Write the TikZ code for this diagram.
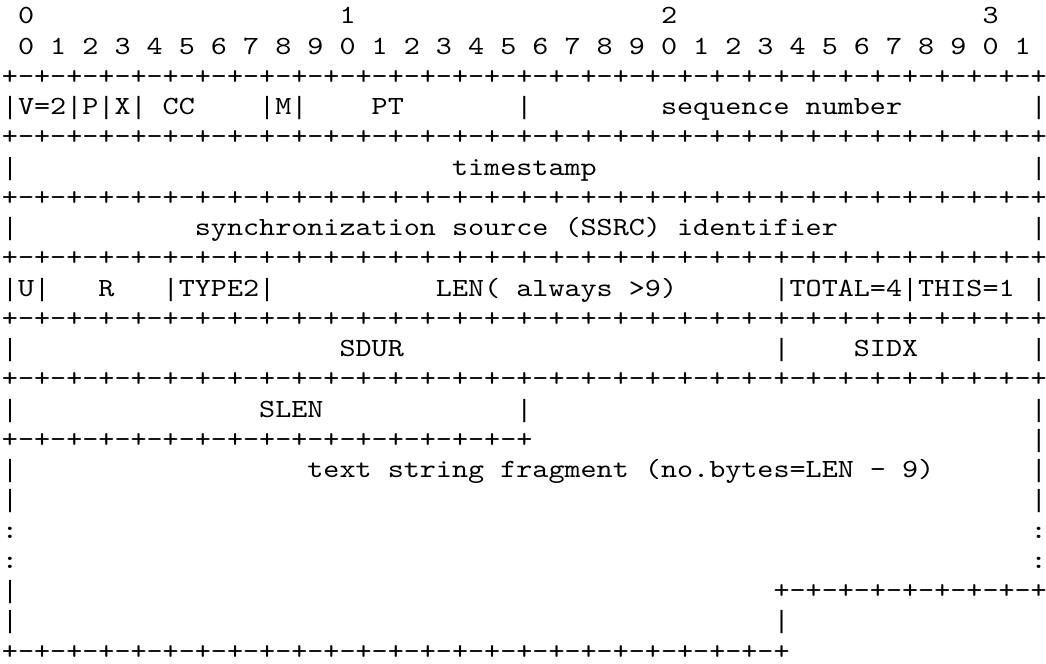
\documentclass[tikz,border=0pt]{standalone}
\usepackage{fontspec}
\usepackage{tikz}

\newfontfamily\asciiface[FakeStretch=1.1686]{lmmono10-regular.otf}
\newfontfamily\barface{Liberation Mono}
\newcommand\asciifont{\asciiface\fontsize{13.1pt}{15pt}\selectfont}
\newlength\asciicw
\settowidth{\asciicw}{\asciifont 0}
% n blank character cells
\newcommand\gap[1]{\hspace*{#1\asciicw}}
% one cell holding a tall vertical bar
\newcommand\vb{\makebox[\asciicw]{\barface\fontsize{12.5pt}{15pt}\selectfont|}}
% +-+-...-+ with n cells
\newcommand\dashes[1]{+\foreach \dsh in {1,...,#1}{-+}}
\frenchspacing

\begin{document}
\begin{tikzpicture}[
        x=1pt, y=-15.12pt,
        asciirow/.style={anchor=base west, inner sep=0pt, outer sep=0pt, font=\asciifont, text=black},
    ]
        \fill[white] (-1pt,12pt) rectangle (522pt,-320pt);
        \useasboundingbox (-1pt,12pt) rectangle (522pt,-320pt);

        % bit ruler
        \node[asciirow] (tens) at (0,0) {\gap{1}0\gap{19}1\gap{19}2\gap{19}3};
        \node[asciirow] (bits) at (0,1) {\foreach \bitno in {0,...,31}{\gap{1}\pgfmathtruncatemacro\digit{mod(\bitno,10)}\digit}};

        % fixed header
        \node[asciirow] (rule1) at (0,2) {\dashes{32}};
        \node[asciirow] (vpx) at (0,3) {\vb V=2\vb P\vb X\vb\gap{1}CC\gap{4}\vb M\vb\gap{4}PT\gap{7}\vb\gap{8}sequence\gap{1}number\gap{8}\vb};
        \node[asciirow] (rule2) at (0,4) {\dashes{32}};
        \node[asciirow] (stamp) at (0,5) {\vb\gap{27}timestamp\gap{27}\vb};
        \node[asciirow] (rule3) at (0,6) {\dashes{32}};
        \node[asciirow] (ssrc) at (0,7) {\vb\gap{11}synchronization\gap{1}source\gap{1}(SSRC)\gap{1}identifier\gap{12}\vb};
        \node[asciirow] (rule4) at (0,8) {\dashes{32}};

        % payload header
        \node[asciirow] (utype) at (0,9) {\vb U\vb\gap{3}R\gap{3}\vb TYPE2\vb\gap{10}LEN(\gap{1}always\gap{1}>9)\gap{6}\vb TOTAL=4\vb THIS=1\gap{1}\vb};
        \node[asciirow] (rule5) at (0,10) {\dashes{32}};
        \node[asciirow] (sdur) at (0,11) {\vb\gap{20}SDUR\gap{23}\vb\gap{4}SIDX\gap{7}\vb};
        \node[asciirow] (rule6) at (0,12) {\dashes{32}};
        \node[asciirow] (slen) at (0,13) {\vb\gap{15}SLEN\gap{12}\vb\gap{31}\vb};
        \node[asciirow] (rule7) at (0,14) {\dashes{16}\gap{31}\vb};

        % text fragment
        \node[asciirow] (frag) at (0,15) {\vb\gap{18}text\gap{1}string\gap{1}fragment\gap{1}(no.bytes=LEN\gap{1}-\gap{1}9)\gap{6}\vb};
        \node[asciirow] (side1) at (0,16) {\vb\gap{63}\vb};
        \node[asciirow] (dots1) at (0,17) {:\gap{63}:};
        \node[asciirow] (dots2) at (0,18) {:\gap{63}:};
        \node[asciirow] (tail1) at (0,19) {\vb\gap{47}\dashes{8}};
        \node[asciirow] (tail2) at (0,20) {\vb\gap{47}\vb};
        \node[asciirow] (rule8) at (0,21) {\dashes{24}};
    \end{tikzpicture}
\end{document}
